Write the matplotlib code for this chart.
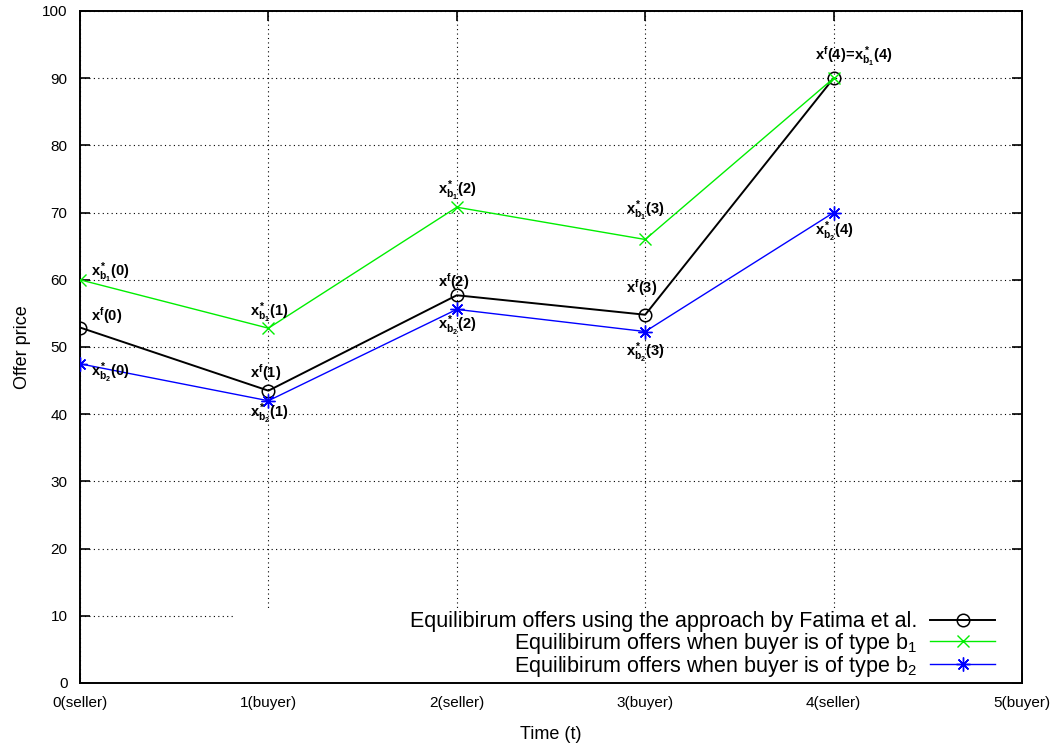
import matplotlib
matplotlib.use("Agg")
import matplotlib.pyplot as plt
from matplotlib.patches import Rectangle

plt.rcParams['font.family'] = ['Liberation Sans', 'DejaVu Sans']
plt.rcParams['mathtext.fontset'] = 'custom'
plt.rcParams['mathtext.rm'] = 'Liberation Sans'
plt.rcParams['mathtext.it'] = 'Liberation Sans'
plt.rcParams['mathtext.bf'] = 'Liberation Sans:bold'

# data
t = [0, 1, 2, 3, 4]
fatima = [52.9, 43.5, 57.7, 54.8, 90.0]
type_b1 = [60.0, 52.8, 70.8, 66.0, 90.0]
type_b2 = [47.5, 42.0, 55.6, 52.3, 70.0]

xtick_labels = ["0(seller)", "1(buyer)", "2(seller)", "3(buyer)", "4(seller)", "5(buyer)"]
yticks = [0, 10, 20, 30, 40, 50, 60, 70, 80, 90, 100]

legend_labels = ["Equilibirum offers using the approach by Fatima et al.",
                 "Equilibirum offers when buyer is of type b$_1$",
                 "Equilibirum offers when buyer is of type b$_2$"]

# point labels (text, t, price)
point_labels = [
    (r"$\mathbf{x^*_{b_1}(0)}$", 0.06, 61.0),
    (r"$\mathbf{x^f(0)}$", 0.06, 54.7),
    (r"$\mathbf{x^*_{b_2}(0)}$", 0.06, 46.2),
    (r"$\mathbf{x^*_{b_1}(1)}$", 0.9, 55.1),
    (r"$\mathbf{x^f(1)}$", 0.9, 46.2),
    (r"$\mathbf{x^*_{b_2}(1)}$", 0.9, 40.1),
    (r"$\mathbf{x^*_{b_1}(2)}$", 1.9, 73.2),
    (r"$\mathbf{x^f(2)}$", 1.9, 59.8),
    (r"$\mathbf{x^*_{b_2}(2)}$", 1.9, 53.1),
    (r"$\mathbf{x^*_{b_1}(3)}$", 2.9, 70.2),
    (r"$\mathbf{x^f(3)}$", 2.9, 58.9),
    (r"$\mathbf{x^*_{b_2}(3)}$", 2.9, 49.2),
    (r"$\mathbf{x^f(4)\!=\!x^*_{b_1}(4)}$", 3.9, 93.3),
    (r"$\mathbf{x^*_{b_2}(4)}$", 3.9, 67.1),
]

fig = plt.figure(figsize=(10.55, 7.53), dpi=100)
ax = fig.add_axes([80/1055, 1 - 683/753, 942/1055, 672/753])

ax.plot(t, fatima, color='black', lw=1.4, marker='o', ms=9, mfc='none', mew=1.1,
        label=legend_labels[0], zorder=3)
ax.plot(t, type_b1, color='#00ee00', lw=1.0, marker='x', ms=9, mew=1.0,
        label=legend_labels[1], zorder=4)
ax.plot(t, type_b2, color='#0000ff', lw=1.0, marker=(8, 2, 0), ms=10, mew=1.0,
        label=legend_labels[2], zorder=5)

for txt, xx, yy in point_labels:
    ax.text(xx, yy, txt, fontsize=10.5, ha='left', va='center', zorder=6)

ax.set_xlim(0, 5)
ax.set_ylim(0, 100)
ax.set_xticks(range(6))
ax.set_xticklabels(xtick_labels)
ax.set_yticks(yticks)
ax.tick_params(direction='in', length=7, width=1.2, top=True, right=True,
               labelsize=11, pad=9)
ax.grid(True, color='black', linestyle=(0, (1, 3)), linewidth=0.8)
ax.set_axisbelow(True)
for s in ax.spines.values():
    s.set_linewidth(1.4)

ax.set_xlabel("Time (t)", fontsize=13, labelpad=12)
ax.set_ylabel("Offer price", fontsize=13, labelpad=8)

# opaque key area like gnuplot
ax.add_patch(Rectangle((0.165, 0.0), 0.835, 0.108, transform=ax.transAxes,
                       facecolor='white', edgecolor='none', zorder=1.5))

leg = ax.legend(loc='lower right', bbox_to_anchor=(0.9713, 0.006), markerfirst=False,
                frameon=False, fontsize=15.5, handlelength=3.0, handletextpad=0.6,
                labelspacing=-0.08, borderpad=0, borderaxespad=0)

fig.savefig("out.png", dpi=100)
